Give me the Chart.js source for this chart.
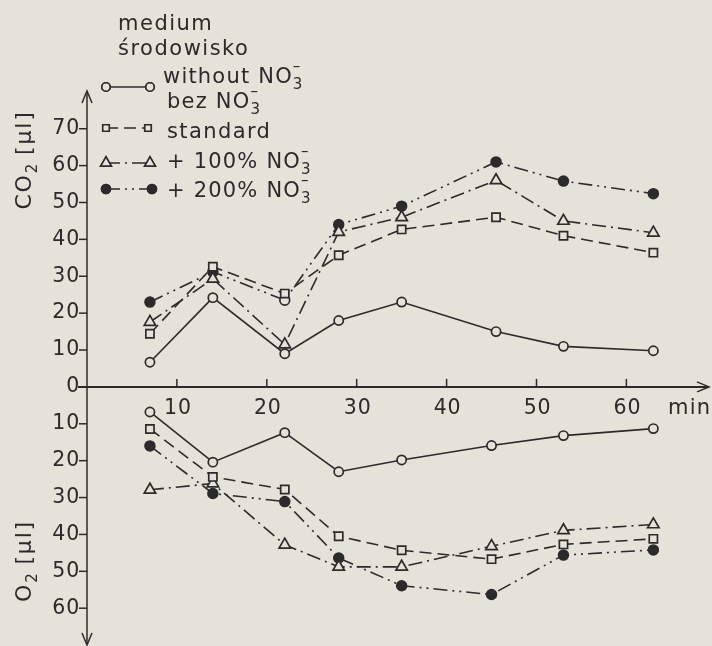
<!DOCTYPE html>
<html>
<head>
<meta charset="utf-8">
<script src="https://cdn.jsdelivr.net/npm/chart.js@4.4.1/dist/chart.umd.min.js"></script>
<style>
  html, body { margin: 0; padding: 0; background: #e5e2da; }
  #wrap { width: 712px; height: 646px; position: relative; }
</style>
</head>
<body>
<div id="wrap"><canvas id="chart1" width="712" height="646"></canvas></div>
<script>
// sampling times (min)
const co2Minutes = [7, 14, 22, 28, 35, 45.5, 53, 63];
const o2Minutes = [7, 14, 22, 28, 35, 45, 53, 63];

// CO2 evolved [µl]
const co2Without = [6.7, 24.2, 9, 18, 23, 15, 11, 9.8];
const co2Standard = [14.4, 32.6, 25.3, 35.7, 42.7, 46, 41, 36.4];
const co2Plus100 = [17.6, 29.3, 11.5, 42, 46, 56, 45, 41.8];
const co2Plus200 = [23, 31.2, 23.5, 44, 49, 61, 55.8, 52.4];

// O2 taken up [µl] (plotted downwards)
const o2Without = [6.8, 20.4, 12.4, 23, 19.8, 15.9, 13.2, 11.3];
const o2Standard = [11.4, 24.4, 27.8, 40.5, 44.3, 46.7, 42.7, 41.2];
const o2Plus100 = [27.9, 26.2, 42.8, 48.8, 48.8, 43.2, 38.9, 37.3];
const o2Plus200 = [16, 28.9, 31.1, 46.4, 53.9, 56.3, 45.6, 44.2];

const xTicks = [10, 20, 30, 40, 50, 60];
const co2Ticks = [0, 10, 20, 30, 40, 50, 60, 70];
const o2Ticks = [10, 20, 30, 40, 50, 60];

const INK = '#2b2b2b';
const PAPER = '#e5e2da';
const FONT = '"DejaVu Sans", sans-serif';

// one style per medium
const styles = {
    without: { dash: [], pointStyle: 'circle', radius: 4.6, fill: PAPER },
    standard: { dash: [12, 6], pointStyle: 'rect', radius: 5.8, fill: PAPER },
    plus100: { dash: [14, 5, 2, 5], pointStyle: 'triangle', radius: 6.6, fill: PAPER },
    plus200: { dash: [14, 5, 2, 5, 2, 5], pointStyle: 'circle', radius: 4.9, fill: INK }
};

function toPoints(xs, values, sign) {
    return values.map((v, i) => ({ x: xs[i], y: sign * v }));
}

function makeDataset(label, xs, values, sign, key) {
    const s = styles[key];
    return {
        label: label,
        data: toPoints(xs, values, sign),
        borderColor: INK,
        borderWidth: 1.6,
        borderDash: s.dash,
        pointStyle: s.pointStyle,
        pointRadius: s.radius,
        pointBorderWidth: 1.7,
        pointBorderColor: INK,
        pointBackgroundColor: s.fill,
        tension: 0
    };
}

const datasets = [
    makeDataset('CO2 without', co2Minutes, co2Without, 1, 'without'),
    makeDataset('CO2 standard', co2Minutes, co2Standard, 1, 'standard'),
    makeDataset('CO2 +100%', co2Minutes, co2Plus100, 1, 'plus100'),
    makeDataset('CO2 +200%', co2Minutes, co2Plus200, 1, 'plus200'),
    makeDataset('O2 without', o2Minutes, o2Without, -1, 'without'),
    makeDataset('O2 standard', o2Minutes, o2Standard, -1, 'standard'),
    makeDataset('O2 +100%', o2Minutes, o2Plus100, -1, 'plus100'),
    makeDataset('O2 +200%', o2Minutes, o2Plus200, -1, 'plus200')
];
// the scan shows the 22 min +200% CO2 mark unfilled
datasets[3].pointBackgroundColor = co2Minutes.map((m, i) => i === 2 ? PAPER : INK);

function setFont(ctx, size, spacing) {
    ctx.font = size + 'px ' + FONT;
    ctx.letterSpacing = (spacing === undefined ? 1.2 : spacing) + 'px';
}

// draws "NO" with superscript minus and subscript 3
function drawNO3(ctx, text, x, y) {
    setFont(ctx, 21);
    ctx.fillText(text, x, y);
    let w = ctx.measureText(text).width;
    setFont(ctx, 15, 0);
    ctx.fillText('3', x + w, y + 6);
    ctx.fillText('\u2013', x + w, y - 12);
}

function arrowHead(ctx, x, y, dir) {
    ctx.beginPath();
    if (dir === 'up') {
        ctx.moveTo(x - 5, y + 12); ctx.lineTo(x, y); ctx.lineTo(x + 5, y + 12);
    } else if (dir === 'down') {
        ctx.moveTo(x - 5, y - 12); ctx.lineTo(x, y); ctx.lineTo(x + 5, y - 12);
    } else {
        ctx.moveTo(x - 12, y - 5); ctx.lineTo(x, y); ctx.lineTo(x - 12, y + 5);
    }
    ctx.stroke();
}

const axesPlugin = {
    id: 'axesPlugin',
    beforeDatasetsDraw(chart) {
        const ctx = chart.ctx;
        const xs = chart.scales.x;
        const ys = chart.scales.y;
        const x0 = xs.getPixelForValue(0);
        const y0 = ys.getPixelForValue(0);
        ctx.save();
        ctx.strokeStyle = INK;
        ctx.fillStyle = INK;
        ctx.lineWidth = 1.5;

        // vertical axis with arrows at both ends
        ctx.beginPath();
        ctx.moveTo(x0, 91);
        ctx.lineTo(x0, 645);
        ctx.stroke();
        arrowHead(ctx, x0, 91, 'up');
        arrowHead(ctx, x0, 645, 'down');

        // time axis
        ctx.lineWidth = 2;
        ctx.beginPath();
        ctx.moveTo(x0 - 9, y0);
        ctx.lineTo(709, y0);
        ctx.stroke();
        ctx.lineWidth = 1.5;
        arrowHead(ctx, 709, y0, 'right');

        setFont(ctx, 20.5, 0.8);
        ctx.textBaseline = 'middle';
        ctx.textAlign = 'right';
        co2Ticks.forEach(t => {
            const py = ys.getPixelForValue(t);
            if (t > 0) {
                ctx.beginPath(); ctx.moveTo(x0 - 8, py); ctx.lineTo(x0, py); ctx.stroke();
            }
            ctx.fillText(String(t), x0 - 7, py);
        });
        o2Ticks.forEach(t => {
            const py = ys.getPixelForValue(-t);
            ctx.beginPath(); ctx.moveTo(x0 - 8, py); ctx.lineTo(x0, py); ctx.stroke();
            ctx.fillText(String(t), x0 - 7, py);
        });

        ctx.textAlign = 'center';
        ctx.textBaseline = 'alphabetic';
        xTicks.forEach(t => {
            const px = xs.getPixelForValue(t);
            ctx.beginPath(); ctx.moveTo(px, y0 - 8); ctx.lineTo(px, y0); ctx.stroke();
            ctx.fillText(String(t), px + 1, y0 + 27);
        });
        ctx.textAlign = 'left';
        setFont(ctx, 21, 1.2);
        ctx.fillText('min', 668, y0 + 27);

        // rotated axis titles
        function sideTitle(main, cy) {
            ctx.save();
            ctx.translate(31, cy);
            ctx.rotate(-Math.PI / 2);
            ctx.textAlign = 'left';
            setFont(ctx, 22, 1.8);
            const w1 = ctx.measureText(main).width;
            setFont(ctx, 15, 0);
            const w2 = ctx.measureText('2').width;
            setFont(ctx, 22, 1.8);
            const w3 = ctx.measureText(' [µl]').width;
            const start = -(w1 + w2 + w3) / 2;
            ctx.fillText(main, start, 0);
            setFont(ctx, 15, 0);
            ctx.fillText('2', start + w1, 6);
            setFont(ctx, 22, 1.8);
            ctx.fillText(' [µl]', start + w1 + w2, 0);
            ctx.restore();
        }
        sideTitle('CO', 160);
        sideTitle('O', 561);
        ctx.restore();
    }
};

const legendPlugin = {
    id: 'legendPlugin',
    afterDraw(chart) {
        const ctx = chart.ctx;
        ctx.save();
        ctx.fillStyle = INK;
        ctx.strokeStyle = INK;
        ctx.textAlign = 'left';
        ctx.textBaseline = 'alphabetic';
        setFont(ctx, 21, 1.5);
        ctx.fillText('medium', 118, 30);
        ctx.fillText('środowisko', 118, 55);

        const rows = [
            { key: 'without', y: 87, x1: 106, x2: 150 },
            { key: 'standard', y: 128, x1: 106, x2: 148 },
            { key: 'plus100', y: 163, x1: 106, x2: 150 },
            { key: 'plus200', y: 189, x1: 106, x2: 152 }
        ];
        rows.forEach(r => {
            const s = styles[r.key];
            ctx.lineWidth = 1.6;
            ctx.setLineDash(s.dash);
            ctx.beginPath();
            ctx.moveTo(r.x1, r.y);
            ctx.lineTo(r.x2, r.y);
            ctx.stroke();
            ctx.setLineDash([]);
            [r.x1, r.x2].forEach(px => {
                ctx.fillStyle = s.fill;
                Chart.helpers.drawPoint(ctx, {
                    pointStyle: s.pointStyle,
                    radius: r.key === 'standard' ? 4.6 : s.radius - 0.4,
                    borderWidth: 1.6
                }, px, r.y);
                ctx.fill();
                ctx.stroke();
            });
        });

        ctx.fillStyle = INK;
        setFont(ctx, 21);
        ctx.fillText('without', 163, 83);
        drawNO3(ctx, ' NO', 163 + ctx.measureText('without').width, 83);
        setFont(ctx, 21);
        ctx.fillText('bez', 167, 108);
        drawNO3(ctx, ' NO', 167 + ctx.measureText('bez').width, 108);
        setFont(ctx, 21, 1.4);
        ctx.fillText('standard', 167, 138);
        drawNO3(ctx, '+ 100% NO', 167, 168);
        drawNO3(ctx, '+ 200% NO', 167, 197);
        ctx.restore();
    }
};

const ctx = document.getElementById('chart1').getContext('2d');
const chart1 = new Chart(ctx, {
    type: 'line',
    data: { datasets: datasets },
    options: {
        responsive: false,
        animation: false,
        layout: { padding: { left: 87, right: 4, top: 90, bottom: 6 } },
        plugins: {
            legend: { display: false },
            tooltip: { enabled: false }
        },
        scales: {
            x: { type: 'linear', min: 0, max: 68.6, display: false },
            y: { type: 'linear', min: -68, max: 80.5, display: false }
        }
    },
    plugins: [axesPlugin, legendPlugin]
});
</script>
</body>
</html>
